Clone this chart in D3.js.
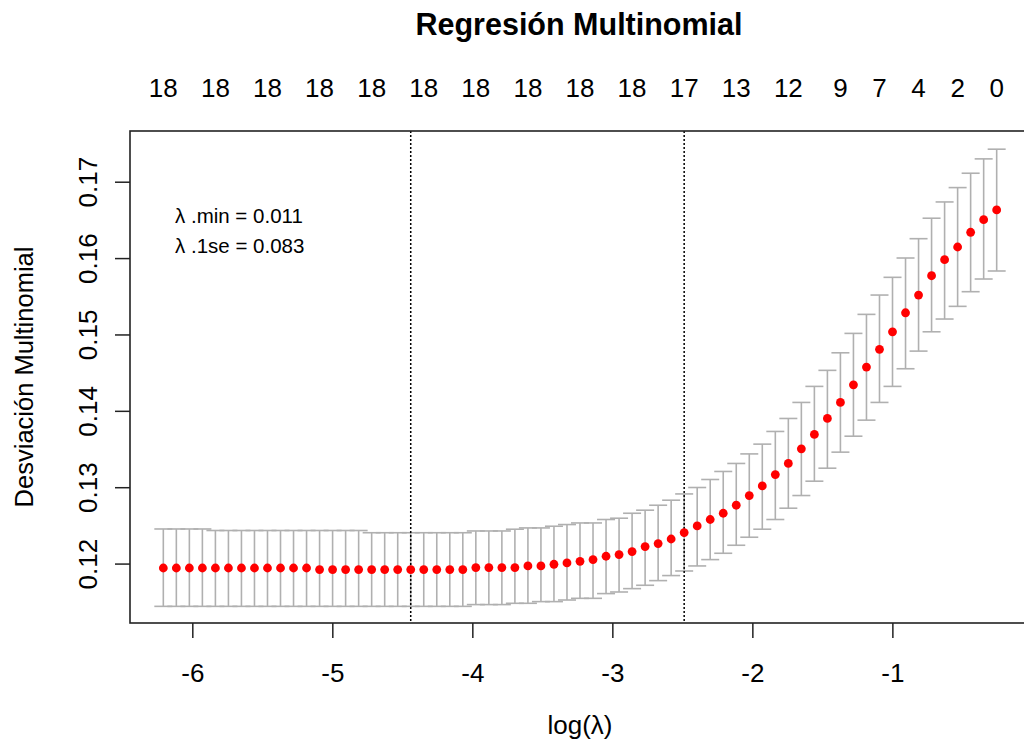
<!DOCTYPE html>
<html>
<head>
<meta charset="utf-8">
<script src="https://cdn.jsdelivr.net/npm/d3@7"></script>
<style>
  html, body { margin: 0; padding: 0; background: #ffffff; }
  svg { display: block; }
  text { font-family: "Liberation Sans", Arial, sans-serif; fill: #000; }
</style>
</head>
<body>
<svg id="chart" width="1024" height="749"></svg>
<script>
// ---- data ----
const logLambda = [
  -6.207, -6.114, -6.021, -5.928, -5.835, -5.742, -5.649, -5.556, -5.463, -5.370,
  -5.277, -5.184, -5.091, -4.998, -4.905, -4.812, -4.719, -4.626, -4.533, -4.440,
  -4.347, -4.254, -4.161, -4.068, -3.975, -3.882, -3.789, -3.696, -3.603, -3.510,
  -3.417, -3.324, -3.231, -3.138, -3.045, -2.952, -2.859, -2.766, -2.673, -2.580,
  -2.487, -2.394, -2.301, -2.208, -2.115, -2.022, -1.929, -1.836, -1.743, -1.650,
  -1.557, -1.464, -1.371, -1.278, -1.185, -1.092, -0.999, -0.906, -0.813, -0.720,
  -0.627, -0.534, -0.441, -0.348, -0.255
];
const cvm = [
  0.11942, 0.11942, 0.11942, 0.11942, 0.11942, 0.11942, 0.11942, 0.11942, 0.11942, 0.11942,
  0.11942, 0.11942, 0.11921, 0.11921, 0.11921, 0.11921, 0.11921, 0.11921, 0.11921, 0.11921,
  0.11921, 0.11921, 0.11921, 0.11921, 0.11948, 0.11948, 0.11948, 0.11948, 0.11969, 0.11969,
  0.11991, 0.12008, 0.12030, 0.12052, 0.12096, 0.12118, 0.12157, 0.12223, 0.12262, 0.12322,
  0.12406, 0.12493, 0.12577, 0.12659, 0.12764, 0.12891, 0.13017, 0.13166, 0.13311, 0.13502,
  0.13691, 0.13900, 0.14110, 0.14341, 0.14573, 0.14805, 0.15035, 0.15284, 0.15516, 0.15769,
  0.15979, 0.16145, 0.16338, 0.16503, 0.16630
];
const cvup = [
  0.12453, 0.12453, 0.12453, 0.12453, 0.12433, 0.12433, 0.12433, 0.12433, 0.12433, 0.12433,
  0.12433, 0.12433, 0.12433, 0.12433, 0.12433, 0.12433, 0.12404, 0.12404, 0.12404, 0.12404,
  0.12404, 0.12404, 0.12404, 0.12404, 0.12427, 0.12427, 0.12427, 0.12450, 0.12467, 0.12467,
  0.12489, 0.12511, 0.12532, 0.12532, 0.12577, 0.12594, 0.12659, 0.12699, 0.12764, 0.12830,
  0.12912, 0.12996, 0.13101, 0.13206, 0.13311, 0.13436, 0.13564, 0.13730, 0.13900, 0.14110,
  0.14320, 0.14530, 0.14760, 0.15014, 0.15263, 0.15516, 0.15748, 0.16001, 0.16254, 0.16522,
  0.16735, 0.16923, 0.17111, 0.17299, 0.17426
];
const cvlo = [
  0.11440, 0.11440, 0.11440, 0.11440, 0.11440, 0.11440, 0.11440, 0.11440, 0.11440, 0.11440,
  0.11440, 0.11440, 0.11440, 0.11440, 0.11440, 0.11440, 0.11440, 0.11440, 0.11440, 0.11440,
  0.11440, 0.11440, 0.11440, 0.11440, 0.11463, 0.11463, 0.11463, 0.11480, 0.11480, 0.11502,
  0.11502, 0.11523, 0.11545, 0.11545, 0.11607, 0.11628, 0.11672, 0.11716, 0.11777, 0.11843,
  0.11903, 0.11969, 0.12052, 0.12135, 0.12240, 0.12345, 0.12450, 0.12577, 0.12725, 0.12891,
  0.13079, 0.13249, 0.13459, 0.13668, 0.13878, 0.14110, 0.14320, 0.14551, 0.14782, 0.15035,
  0.15202, 0.15368, 0.15560, 0.15726, 0.15831
];
// number of non-zero coefficients shown on the top axis (index into logLambda)
const nzeroIdx    = [0, 4, 8, 12, 16, 20, 24, 28, 32, 36, 40, 44, 48, 52, 55, 58, 61, 64];
const nzeroLabels = ["18","18","18","18","18","18","18","18","18","18","17","13","12","9","7","4","2","0"];
const xTicks = [-6, -5, -4, -3, -2, -1];
const xTickLabels = ["-6", "-5", "-4", "-3", "-2", "-1"];
const yTicks = [0.12, 0.13, 0.14, 0.15, 0.16, 0.17];
const yTickLabels = ["0.12", "0.13", "0.14", "0.15", "0.16", "0.17"];
const lambdaMinIdx = 19;
const lambda1seIdx = 40;
const legendLines = ["λ .min = 0.011", "λ .1se = 0.083"];
const titleText = "Regresión Multinomial";
const xLabel = "log(λ)";
const yLabel = "Desviación Multinomial";

// ---- layout ----
const L = 130, R = 1030, T = 131, B = 623;
const svg = d3.select("#chart");

const x = d3.scaleLinear().domain([-6.445, -0.017]).range([L, R]);
const y = d3.scaleLinear().domain([0.11222, 0.17664]).range([B, T]);

const data = logLambda.map((l, i) => ({ l, m: cvm[i], up: cvup[i], lo: cvlo[i] }));

// error bars
const eb = svg.append("g").attr("stroke", "#b0b0b0").attr("stroke-width", 1.6).attr("fill", "none");
const cap = 9;
data.forEach(d => {
  eb.append("line").attr("x1", x(d.l)).attr("x2", x(d.l)).attr("y1", y(d.up)).attr("y2", y(d.lo));
  eb.append("line").attr("x1", x(d.l) - cap).attr("x2", x(d.l) + cap).attr("y1", y(d.up)).attr("y2", y(d.up));
  eb.append("line").attr("x1", x(d.l) - cap).attr("x2", x(d.l) + cap).attr("y1", y(d.lo)).attr("y2", y(d.lo));
});

// dotted reference lines
[lambdaMinIdx, lambda1seIdx].forEach(i => {
  svg.append("line")
    .attr("x1", x(logLambda[i])).attr("x2", x(logLambda[i]))
    .attr("y1", T).attr("y2", B)
    .attr("stroke", "#000").attr("stroke-width", 1.5)
    .attr("stroke-dasharray", "2,2");
});

// points
svg.append("g").selectAll("circle").data(data).join("circle")
  .attr("cx", d => x(d.l)).attr("cy", d => y(d.m)).attr("r", 4.4)
  .attr("fill", "#ff0000");

// box
svg.append("rect").attr("x", L).attr("y", T).attr("width", R - L).attr("height", B - T)
  .attr("fill", "none").attr("stroke", "#222").attr("stroke-width", 1.6);

// bottom axis
const gx = svg.append("g").attr("transform", `translate(0,${B})`)
  .call(d3.axisBottom(x).tickValues(xTicks).tickSize(15).tickFormat((d, i) => xTickLabels[i]));
gx.select(".domain").remove();
gx.selectAll(".tick line").attr("stroke", "#222").attr("stroke-width", 1.5);
gx.selectAll(".tick text").attr("y", 58.7).attr("dy", 0)
  .style("font-size", "26px").style("font-family", "Liberation Sans, Arial, sans-serif").attr("fill", "#000");

// left axis
const gy = svg.append("g").attr("transform", `translate(${L},0)`)
  .call(d3.axisLeft(y).tickValues(yTicks).tickSize(15).tickFormat((d, i) => yTickLabels[i]));
gy.select(".domain").remove();
gy.selectAll(".tick line").attr("stroke", "#222").attr("stroke-width", 1.5);
gy.selectAll(".tick text")
  .attr("x", 0).attr("y", 0).attr("dy", 0)
  .attr("text-anchor", "middle")
  .attr("transform", "translate(-33,0) rotate(-90)")
  .style("font-size", "26px").style("font-family", "Liberation Sans, Arial, sans-serif").attr("fill", "#000");

// top axis labels (no ticks)
svg.append("g").selectAll("text").data(nzeroIdx).join("text")
  .attr("x", i => x(logLambda[i])).attr("y", 97)
  .attr("text-anchor", "middle").style("font-size", "26px")
  .text((i, k) => nzeroLabels[k]);

// legend
svg.append("g").selectAll("text").data(legendLines).join("text")
  .attr("x", 175).attr("y", (d, i) => 223 + i * 30)
  .style("font-size", "20.5px").attr("fill", "#111")
  .text(d => d);

// title & axis labels
svg.append("text").attr("x", 579).attr("y", 35).attr("text-anchor", "middle")
  .style("font-size", "30.5px").style("font-weight", "bold").text(titleText);
svg.append("text").attr("x", 580).attr("y", 734).attr("text-anchor", "middle")
  .style("font-size", "26px").text(xLabel);
svg.append("text").attr("transform", `translate(33,${(T + B) / 2}) rotate(-90)`)
  .attr("text-anchor", "middle").style("font-size", "25.5px").text(yLabel);
</script>
</body>
</html>
